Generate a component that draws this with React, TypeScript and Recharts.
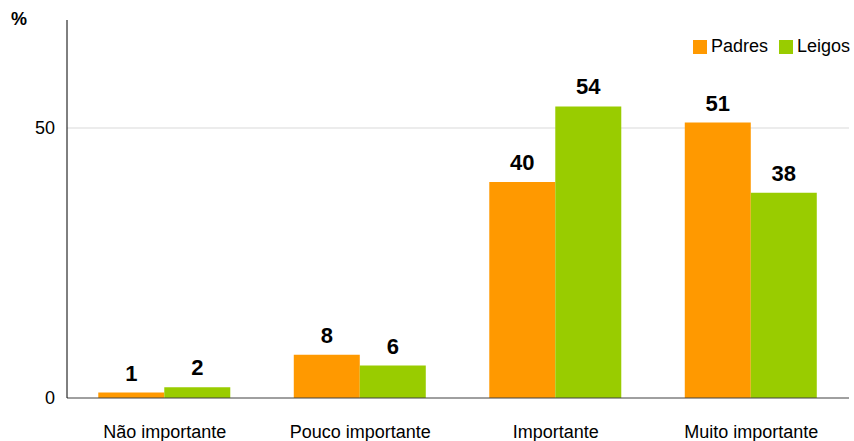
import { BarChart, Bar, XAxis, YAxis, CartesianGrid, LabelList } from 'recharts';

const categories = ['Não importante', 'Pouco importante', 'Importante', 'Muito importante'];
const padres = [1, 8, 40, 51];
const leigos = [2, 6, 54, 38];
const yTicks = [0, 50];

const data = categories.map((name, i) => ({ name, padres: padres[i], leigos: leigos[i] }));

const FONT = '"Liberation Sans", Arial, sans-serif';

export default function App() {
    return (
        <div style={{ position: 'absolute', left: 0, top: 0, width: 854, height: 441, background: '#fff', fontFamily: FONT }}>
            <div style={{ position: 'absolute', left: 11, top: 9, fontSize: 18, fontWeight: 'bold' }}>%</div>
            <div style={{ position: 'absolute', right: 4, top: 36, display: 'flex', gap: 11, fontSize: 18, color: '#000', zIndex: 2, whiteSpace: 'nowrap' }}>
                <div style={{ display: 'flex', alignItems: 'center', gap: 4 }}>
                    <span style={{ width: 14, height: 14, background: '#FF9900', display: 'inline-block' }}></span>
                    <span>Padres</span>
                </div>
                <div style={{ display: 'flex', alignItems: 'center', gap: 4 }}>
                    <span style={{ width: 14, height: 14, background: '#99CC00', display: 'inline-block' }}></span>
                    <span>Leigos</span>
                </div>
            </div>
            <BarChart
                width={854}
                height={441}
                data={data}
                margin={{ top: 20, right: 5, left: 0, bottom: 0 }}
                barCategoryGap="16%"
                barGap={0}
            >
                <CartesianGrid stroke="#d9d9d9" vertical={false} horizontalValues={[50]} />
                <XAxis
                    dataKey="name"
                    height={43}
                    stroke="#404040"
                    tickLine={false}
                    tick={{ fontSize: 18, fill: '#000', fontFamily: FONT }}
                    dy={19}
                />
                <YAxis
                    width={67}
                    domain={[0, 70]}
                    ticks={yTicks}
                    stroke="#000"
                    tickLine={false}
                    tick={{ fontSize: 18, fill: '#000', fontFamily: FONT }}
                    dx={-4}
                />
                <Bar dataKey="padres" name="Padres" fill="#FF9900" isAnimationActive={false}>
                    <LabelList dataKey="padres" position="top" offset={12} style={{ fontSize: 22, fontWeight: 'bold', fill: '#000', fontFamily: FONT }} />
                </Bar>
                <Bar dataKey="leigos" name="Leigos" fill="#99CC00" isAnimationActive={false}>
                    <LabelList dataKey="leigos" position="top" offset={12} style={{ fontSize: 22, fontWeight: 'bold', fill: '#000', fontFamily: FONT }} />
                </Bar>
            </BarChart>
        </div>
    );
}
